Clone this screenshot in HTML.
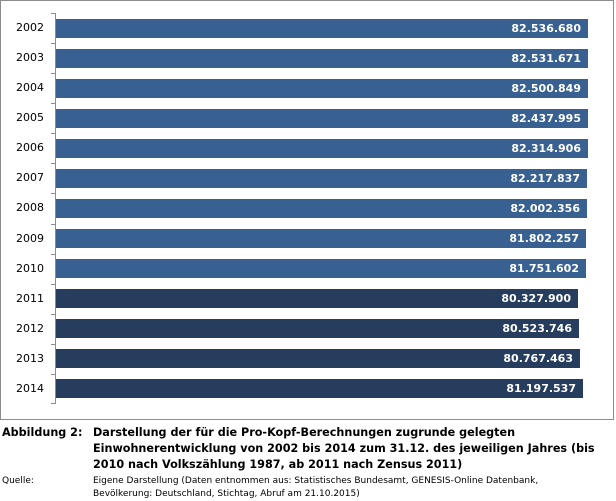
<!DOCTYPE html>
<html><head><meta charset="utf-8"><style>
body{margin:0;width:616px;height:500px;background:#fff;font-family:"DejaVu Sans","Liberation Sans",sans-serif;position:relative;overflow:hidden}
.frame{position:absolute;left:0;top:0;width:612px;height:418px;border:1px solid #8c8c8c}
.axis{position:absolute;left:55px;top:13px;width:1px;height:391px;background:#8c8c8c}
.tick{position:absolute;left:51px;width:4px;height:1px;background:#8c8c8c}
.yl{position:absolute;left:0;width:44px;text-align:right;font-size:11px;color:#000;line-height:14px}
.bar{position:absolute;left:56px;height:19px;color:#fff;font-weight:bold;font-size:11px;line-height:19px;text-align:right;box-sizing:border-box;padding-right:7px}
.cap{position:absolute;font-size:11.2px;font-weight:bold;line-height:16px}
.src{position:absolute;font-size:9px;line-height:13px}
</style></head><body>
<div class="frame"></div>
<div class="axis"></div>
<div id="c"></div>
<div class="cap" style="left:2px;top:425px">Abbildung 2:</div>
<div class="cap" style="left:93px;top:425px;width:522px">Darstellung der für die Pro-Kopf-Berechnungen zugrunde gelegten Einwohnerentwicklung von 2002 bis 2014 zum 31.12. des jeweiligen Jahres (bis 2010 nach Volkszählung 1987, ab 2011 nach Zensus 2011)</div>
<div class="src" style="left:2px;top:475px">Quelle:</div>
<div class="src" style="left:93px;top:475px;width:520px">Eigene Darstellung (Daten entnommen aus: Statistisches Bundesamt, GENESIS-Online Datenbank,<br>Bevölkerung: Deutschland, Stichtag, Abruf am 21.10.2015)</div>
<script>
var d=[[2002,"82.536.680",588],[2003,"82.531.671",588],[2004,"82.500.849",588],[2005,"82.437.995",588],[2006,"82.314.906",588],[2007,"82.217.837",587],[2008,"82.002.356",587],[2009,"81.802.257",586],[2010,"81.751.602",586],[2011,"80.327.900",578],[2012,"80.523.746",579],[2013,"80.767.463",580],[2014,"81.197.537",583]];
var h="";
for(var i=0;i<d.length;i++){var cy=28+i*30.08;
h+='<div class="yl" style="top:'+(cy-7)+'px">'+d[i][0]+'</div>';
h+='<div class="bar" style="top:'+(cy-9.5)+'px;width:'+(d[i][2]-56)+'px;background:'+(d[i][0]>2010?'#263d5d':'#386091')+'">'+d[i][1]+'</div>';
h+='<div class="tick" style="top:'+Math.round(13+i*30.08)+'px"></div>';}
h+='<div class="tick" style="top:403px"></div>';
document.getElementById("c").innerHTML=h;
</script>
</body></html>
